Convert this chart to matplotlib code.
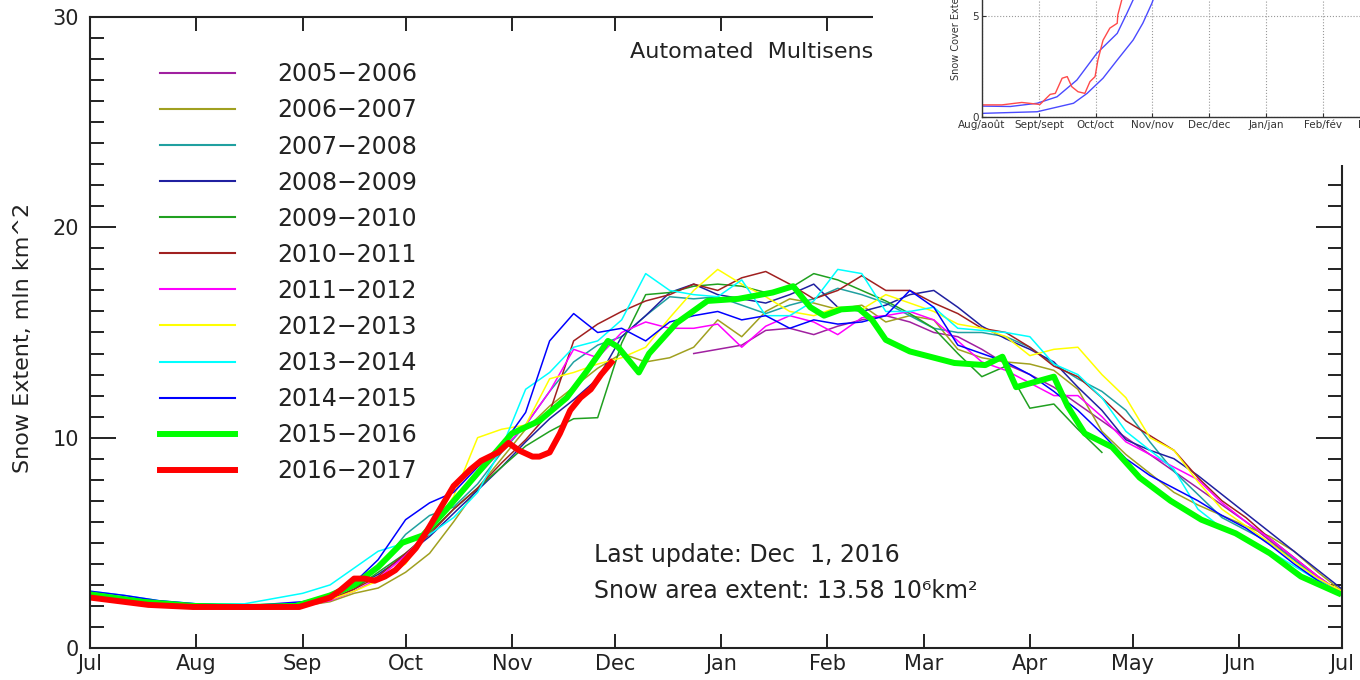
import numpy as np
import matplotlib
matplotlib.use("Agg")
import matplotlib.pyplot as plt
from matplotlib.patches import Rectangle
from matplotlib.lines import Line2D

nan = np.nan

# days since July 1, shared sampling for the thin seasons
days = [0, 10, 20, 31, 45, 62, 70, 77, 84, 92, 99, 106, 113, 120, 127,
        134, 141, 148, 155, 162, 169, 176, 183, 190, 197, 204, 211, 218, 225, 232,
        239, 246, 253, 260, 267, 274, 281, 288, 295, 302, 309, 316, 323, 330, 337,
        344, 351, 358, 365]

s0506 = [nan] * 21 + [14.0, 14.2, 14.4, 15.1, 15.2, 14.9, 15.3, 15.6, 15.8, 15.5, 15.0, 14.8, 14.2,
                      13.5, 13.0, 12.4, 11.6, 10.8, 10.0, 9.2, 8.4, 7.6, 6.8, 6.0, 5.1, 4.2, 3.3, 2.5]
s0607 = [2.5, 2.3, 2.1, 2.0, 1.95, 2.0, 2.2, 2.6, 2.85, 3.6, 4.5, 6.0, 7.6, 9.0, 10.4,
         11.5, 12.4, 13.3, 14.0, 13.6, 13.8, 14.3, 15.6, 14.8, 16.0, 16.6, 16.4, 16.1, 16.3, 15.5,
         15.8, 15.6, 14.2, 13.8, 13.6, 13.5, 13.2, 12.3, 10.3, 9.2, 8.3, 7.4, 6.8, 6.3, 5.8,
         5.3, 4.6, 3.6, 2.7]
s0708 = [2.6, 2.4, 2.2, 2.05, 2.0, 2.1, 2.4, 3.0, 3.8, 5.4, 6.3, 6.7, 7.8, 9.3, 10.6,
         12.2, 13.6, 14.4, 14.8, 15.8, 16.7, 16.6, 16.7, 16.3, 15.9, 16.3, 16.6, 17.1, 16.8, 16.4,
         15.8, 15.2, 15.0, 15.0, 14.8, 14.3, 13.5, 12.8, 12.2, 11.3, 9.8, 8.4, 7.3, 6.2, 5.6,
         5.0, 4.2, 3.3, 2.6]
s0809 = [2.6, 2.4, 2.2, 2.05, 2.0, 2.1, 2.4, 2.9, 3.5, 4.4, 5.3, 6.4, 7.5, 8.6, 9.8,
         10.9, 11.8, 12.8, 14.8, 15.8, 16.9, 17.3, 16.8, 16.6, 16.4, 16.8, 17.3, 16.2, 16.0, 16.3,
         16.8, 17.0, 16.2, 15.3, 14.7, 14.2, 13.6, 12.4, 11.3, 9.9, 9.4, 9.0, 8.2, 7.3, 6.4,
         5.5, 4.6, 3.7, 2.8]
s0910 = [2.6, 2.4, 2.2, 2.05, 2.0, 2.05, 2.3, 2.8, 3.6, 4.5, 5.5, 6.6, 7.6, 8.6, 9.6,
         10.3, 10.9, 10.95, 14.5, 16.8, 16.9, 17.2, 17.3, 17.2, 16.9, 17.1, 17.8, 17.5, 17.0, 16.5,
         15.9, 15.2, 14.0, 12.9, 13.4, 11.4, 11.6, 10.4, 9.3, nan, nan, nan, nan, nan, nan,
         nan, nan, nan, nan]
s1011 = [2.6, 2.4, 2.2, 2.05, 2.0, 2.05, 2.3, 2.8, 3.4, 4.5, 5.4, 6.6, 7.6, 8.8, 9.9,
         11.2, 14.6, 15.4, 16.0, 16.5, 16.8, 17.3, 17.0, 17.6, 17.9, 17.3, 16.6, 17.0, 17.7, 17.0,
         17.0, 16.4, 15.9, 15.2, 15.0, 14.3, 13.4, 12.9, 11.9, 10.8, 10.1, 9.4, 8.1, 7.0, 6.2,
         5.2, 4.3, 3.4, 2.6]
s1112 = [2.5, 2.3, 2.1, 2.0, 1.95, 2.0, 2.25, 2.7, 3.3, 4.4, 5.6, 6.9, 8.2, 9.4, 10.6,
         12.2, 14.2, 13.8, 15.0, 15.5, 15.2, 15.2, 15.4, 14.3, 15.3, 15.8, 15.5, 14.9, 15.7, 15.8,
         16.0, 15.6, 14.6, 13.6, 13.2, 12.6, 12.0, 12.0, 11.0, 9.8, 9.2, 8.6, 8.0, 6.9, 6.0,
         5.2, 4.3, 3.4, 2.6]
s1213 = [2.5, 2.3, 2.1, 2.0, 1.95, 2.0, 2.3, 2.7, 3.2, 4.0, 5.6, 7.2, 10.0, 10.4, 10.6,
         12.8, 13.1, 13.5, 13.8, 14.3, 15.7, 17.0, 18.0, 17.3, 16.7, 16.0, 15.8, 16.2, 16.1, 16.8,
         16.4, 16.0, 15.4, 15.2, 14.8, 13.9, 14.2, 14.3, 13.0, 11.9, 10.0, 9.4, 7.9, 6.6, 5.8,
         5.0, 4.1, 3.3, 2.7]
s1314 = [2.7, 2.5, 2.25, 2.1, 2.1, 2.6, 3.0, 3.8, 4.6, 5.0, 5.4, 6.2, 7.4, 9.5, 12.3,
         13.1, 14.3, 14.6, 15.6, 17.8, 17.0, 16.8, 16.7, 17.5, 15.8, 15.8, 16.5, 18.0, 17.8, 16.0,
         16.0, 16.2, 15.2, 15.1, 15.0, 14.8, 13.5, 13.0, 11.9, 10.3, 9.4, 8.5, 6.6, 5.7, 5.2,
         4.6, 3.9, 3.2, 2.6]
s1415 = [2.7, 2.5, 2.25, 2.1, 2.0, 2.2, 2.5, 3.1, 4.2, 6.1, 6.9, 7.4, 8.6, 9.6, 11.2,
         14.6, 15.9, 15.0, 15.2, 14.6, 15.5, 15.8, 16.0, 15.6, 15.8, 15.2, 15.6, 15.4, 15.5, 15.8,
         17.0, 16.2, 14.4, 14.0, 13.6, 13.0, 12.2, 11.3, 10.2, 9.0, 8.2, 7.6, 7.0, 6.3, 5.7,
         4.9, 4.0, 3.2, 2.5]

green_days = [0, 15, 30, 45, 60, 70, 77, 84, 91, 97, 104, 114, 123, 131, 139,
              145, 151, 154, 160, 163, 171, 180, 189, 199, 205, 210, 214, 219, 224, 228,
              232, 239, 252, 261, 266, 270, 281, 285, 290, 298, 306, 315, 324, 334, 344,
              353, 364]
s1516 = [2.55, 2.2, 2.0, 1.95, 2.0, 2.5, 3.0, 3.85, 5.0, 5.35, 6.6, 8.5, 10.2, 10.8, 11.9,
         13.2, 14.6, 14.3, 13.1, 14.0, 15.45, 16.5, 16.6, 16.9, 17.2, 16.2, 15.8, 16.1, 16.15, 15.6,
         14.65, 14.1, 13.55, 13.45, 13.85, 12.4, 12.9, 11.5, 10.2, 9.55, 8.1, 7.0, 6.1, 5.45, 4.5,
         3.4, 2.6]

red_days = [0, 17, 30, 45, 61, 64, 70, 73, 77, 80, 83, 86, 89, 92, 95, 98,
            102, 106, 111, 114, 119, 122, 125, 129, 131, 134, 137, 140, 143, 146, 149, 152]
s1617 = [2.4, 2.05, 1.95, 1.95, 1.95, 2.1, 2.4, 2.75, 3.3, 3.3, 3.2, 3.4, 3.7, 4.2, 4.75, 5.5,
         6.6, 7.7, 8.5, 8.9, 9.3, 9.75, 9.4, 9.1, 9.1, 9.3, 10.2, 11.3, 11.9, 12.3, 13.0, 13.58]

thin_labels = ["2005−2006", "2006−2007", "2007−2008", "2008−2009", "2009−2010",
               "2010−2011", "2011−2012", "2012−2013", "2013−2014", "2014−2015"]
thin_series = [s0506, s0607, s0708, s0809, s0910, s1011, s1112, s1213, s1314, s1415]
thin_colors = ["#a020a0", "#a0a020", "#20a0a0", "#2020a0", "#20a020",
               "#a02020", "#ff00ff", "#ffff00", "#00ffff", "#0000ff"]

month_days = [0, 31, 62, 92, 123, 153, 184, 215, 243, 274, 304, 335, 365]
month_labels = ["Jul", "Aug", "Sep", "Oct", "Nov", "Dec", "Jan", "Feb",
                "Mar", "Apr", "May", "Jun", "Jul"]

# small overlaid chart (months since Aug 1)
inset_red_x = [0, 0.35, 0.7, 1.02, 1.2, 1.29, 1.41, 1.5, 1.58, 1.69, 1.81, 1.9,
               1.99, 2.04, 2.13, 2.25, 2.38, 2.39, 2.46, 2.55]
inset_red_y = [0.6, 0.6, 0.72, 0.62, 1.12, 1.17, 1.92, 2.0, 1.5, 1.25, 1.17, 1.75,
               2.0, 2.82, 3.8, 4.4, 4.64, 5.05, 5.8, 7.0]
inset_blue1_x = [0, 0.5, 0.97, 1.32, 1.67, 2.02, 2.38, 2.55, 2.66, 2.78]
inset_blue1_y = [0.54, 0.52, 0.68, 1.0, 1.83, 3.15, 4.14, 5.13, 5.8, 6.6]
inset_blue2_x = [0, 0.97, 1.61, 1.85, 2.13, 2.38, 2.66, 2.83, 2.99, 3.1]
inset_blue2_y = [0.18, 0.26, 0.68, 1.17, 1.92, 2.82, 3.81, 4.64, 5.63, 6.5]
inset_labels = ["Aug/août", "Sept/sept", "Oct/oct", "Nov/nov", "Dec/dec",
                "Jan/jan", "Feb/fév", "Mar/mar", "Apr/avr", "May/mai", "Jun/juin"]

ink = "#222222"
W, H = 1360, 680
fig = plt.figure(figsize=(W / 100, H / 100), dpi=100)
ax = fig.add_axes([90 / W, 32 / H, 1252 / W, 631 / H])

for lab, ys, c in zip(thin_labels, thin_series, thin_colors):
    ax.plot(days, ys, color=c, lw=1.1, label=lab)
ax.plot(green_days, s1516, color="#00ff00", lw=4.3, label="2015−2016")
ax.plot(red_days, s1617, color="#ff0000", lw=4.3, label="2016−2017")

ax.set_xlim(0, 365)
ax.set_ylim(0, 30)
ax.set_xticks(month_days)
ax.set_xticklabels(month_labels)
ax.set_yticks([0, 10, 20, 30])
ax.set_yticks(range(31), minor=True)
ax.tick_params(which="both", direction="in", top=True, right=True, width=1.4,
               color=ink, labelcolor=ink, labelsize=15)
ax.tick_params(axis="x", which="major", length=10, pad=4)
ax.tick_params(axis="y", which="major", length=19, pad=8)
ax.tick_params(axis="y", which="minor", length=10)
for sp in ax.spines.values():
    sp.set_linewidth(1.5)
    sp.set_color(ink)

handles = [Line2D([], [], color=c, lw=1.5) for c in thin_colors]
handles += [Line2D([], [], color="#00ff00", lw=4.3), Line2D([], [], color="#ff0000", lw=4.3)]
ax.legend(handles, thin_labels + ["2015−2016", "2016−2017"], loc="upper left",
          bbox_to_anchor=(70 / 1252, 0.928), frameon=False, fontsize=17,
          handlelength=3.18, handletextpad=1.78, labelspacing=0.51,
          borderpad=0, borderaxespad=0, labelcolor=ink)

fig.text(23 / W, 1 - 338 / H, "Snow Extent, mln km^2", rotation=90,
         ha="center", va="center", fontsize=16, color=ink)
ax.text(0.431, 0.9445, "Automated  Multisensor  Snow/Ice  Mapping  System",
        transform=ax.transAxes, fontsize=16, va="center", color=ink)
ax.text(0.4026, 0.147, "Last update: Dec  1, 2016", transform=ax.transAxes,
        fontsize=17, va="center", color=ink)
ax.text(0.4026, 0.0903, "Snow area extent: 13.58 10\u2076km\u00b2", transform=ax.transAxes,
        fontsize=17, va="center", color=ink)

# white patch where the small chart is pasted over the main one
fig.add_artist(Rectangle((873 / W, 1 - 165 / H), 487 / W, 165 / H, transform=fig.transFigure,
                         facecolor="white", edgecolor="none", zorder=5))

axi = fig.add_axes([982 / W, 1 - 117 / H, 625 / W, 202 / H], zorder=6)
axi.patch.set_alpha(0)
axi.plot(inset_blue1_x, inset_blue1_y, color="#4a4aff", lw=1.0)
axi.plot(inset_blue2_x, inset_blue2_y, color="#4a4aff", lw=1.0)
axi.plot(inset_red_x, inset_red_y, color="#ff4a4a", lw=1.0)
axi.set_xlim(0, 11)
axi.set_ylim(0, 10)
axi.set_xticks(range(11))
axi.set_xticklabels(inset_labels)
axi.set_yticks([0, 5, 10])
axi.grid(True, linestyle=":", color="#999999", lw=0.8)
axi.tick_params(direction="in", length=3, labelsize=7.5, pad=2, color="#333333",
                labelcolor="#333333")
for sp in axi.spines.values():
    sp.set_color("#333333")
    sp.set_linewidth(1.0)
axi.text(-0.043, 0.183, "Snow Cover Extent (million km\u00b2)", transform=axi.transAxes,
         rotation=90, ha="center", va="bottom", fontsize=7, color="#333333")

fig.savefig("out.png", dpi=100)
